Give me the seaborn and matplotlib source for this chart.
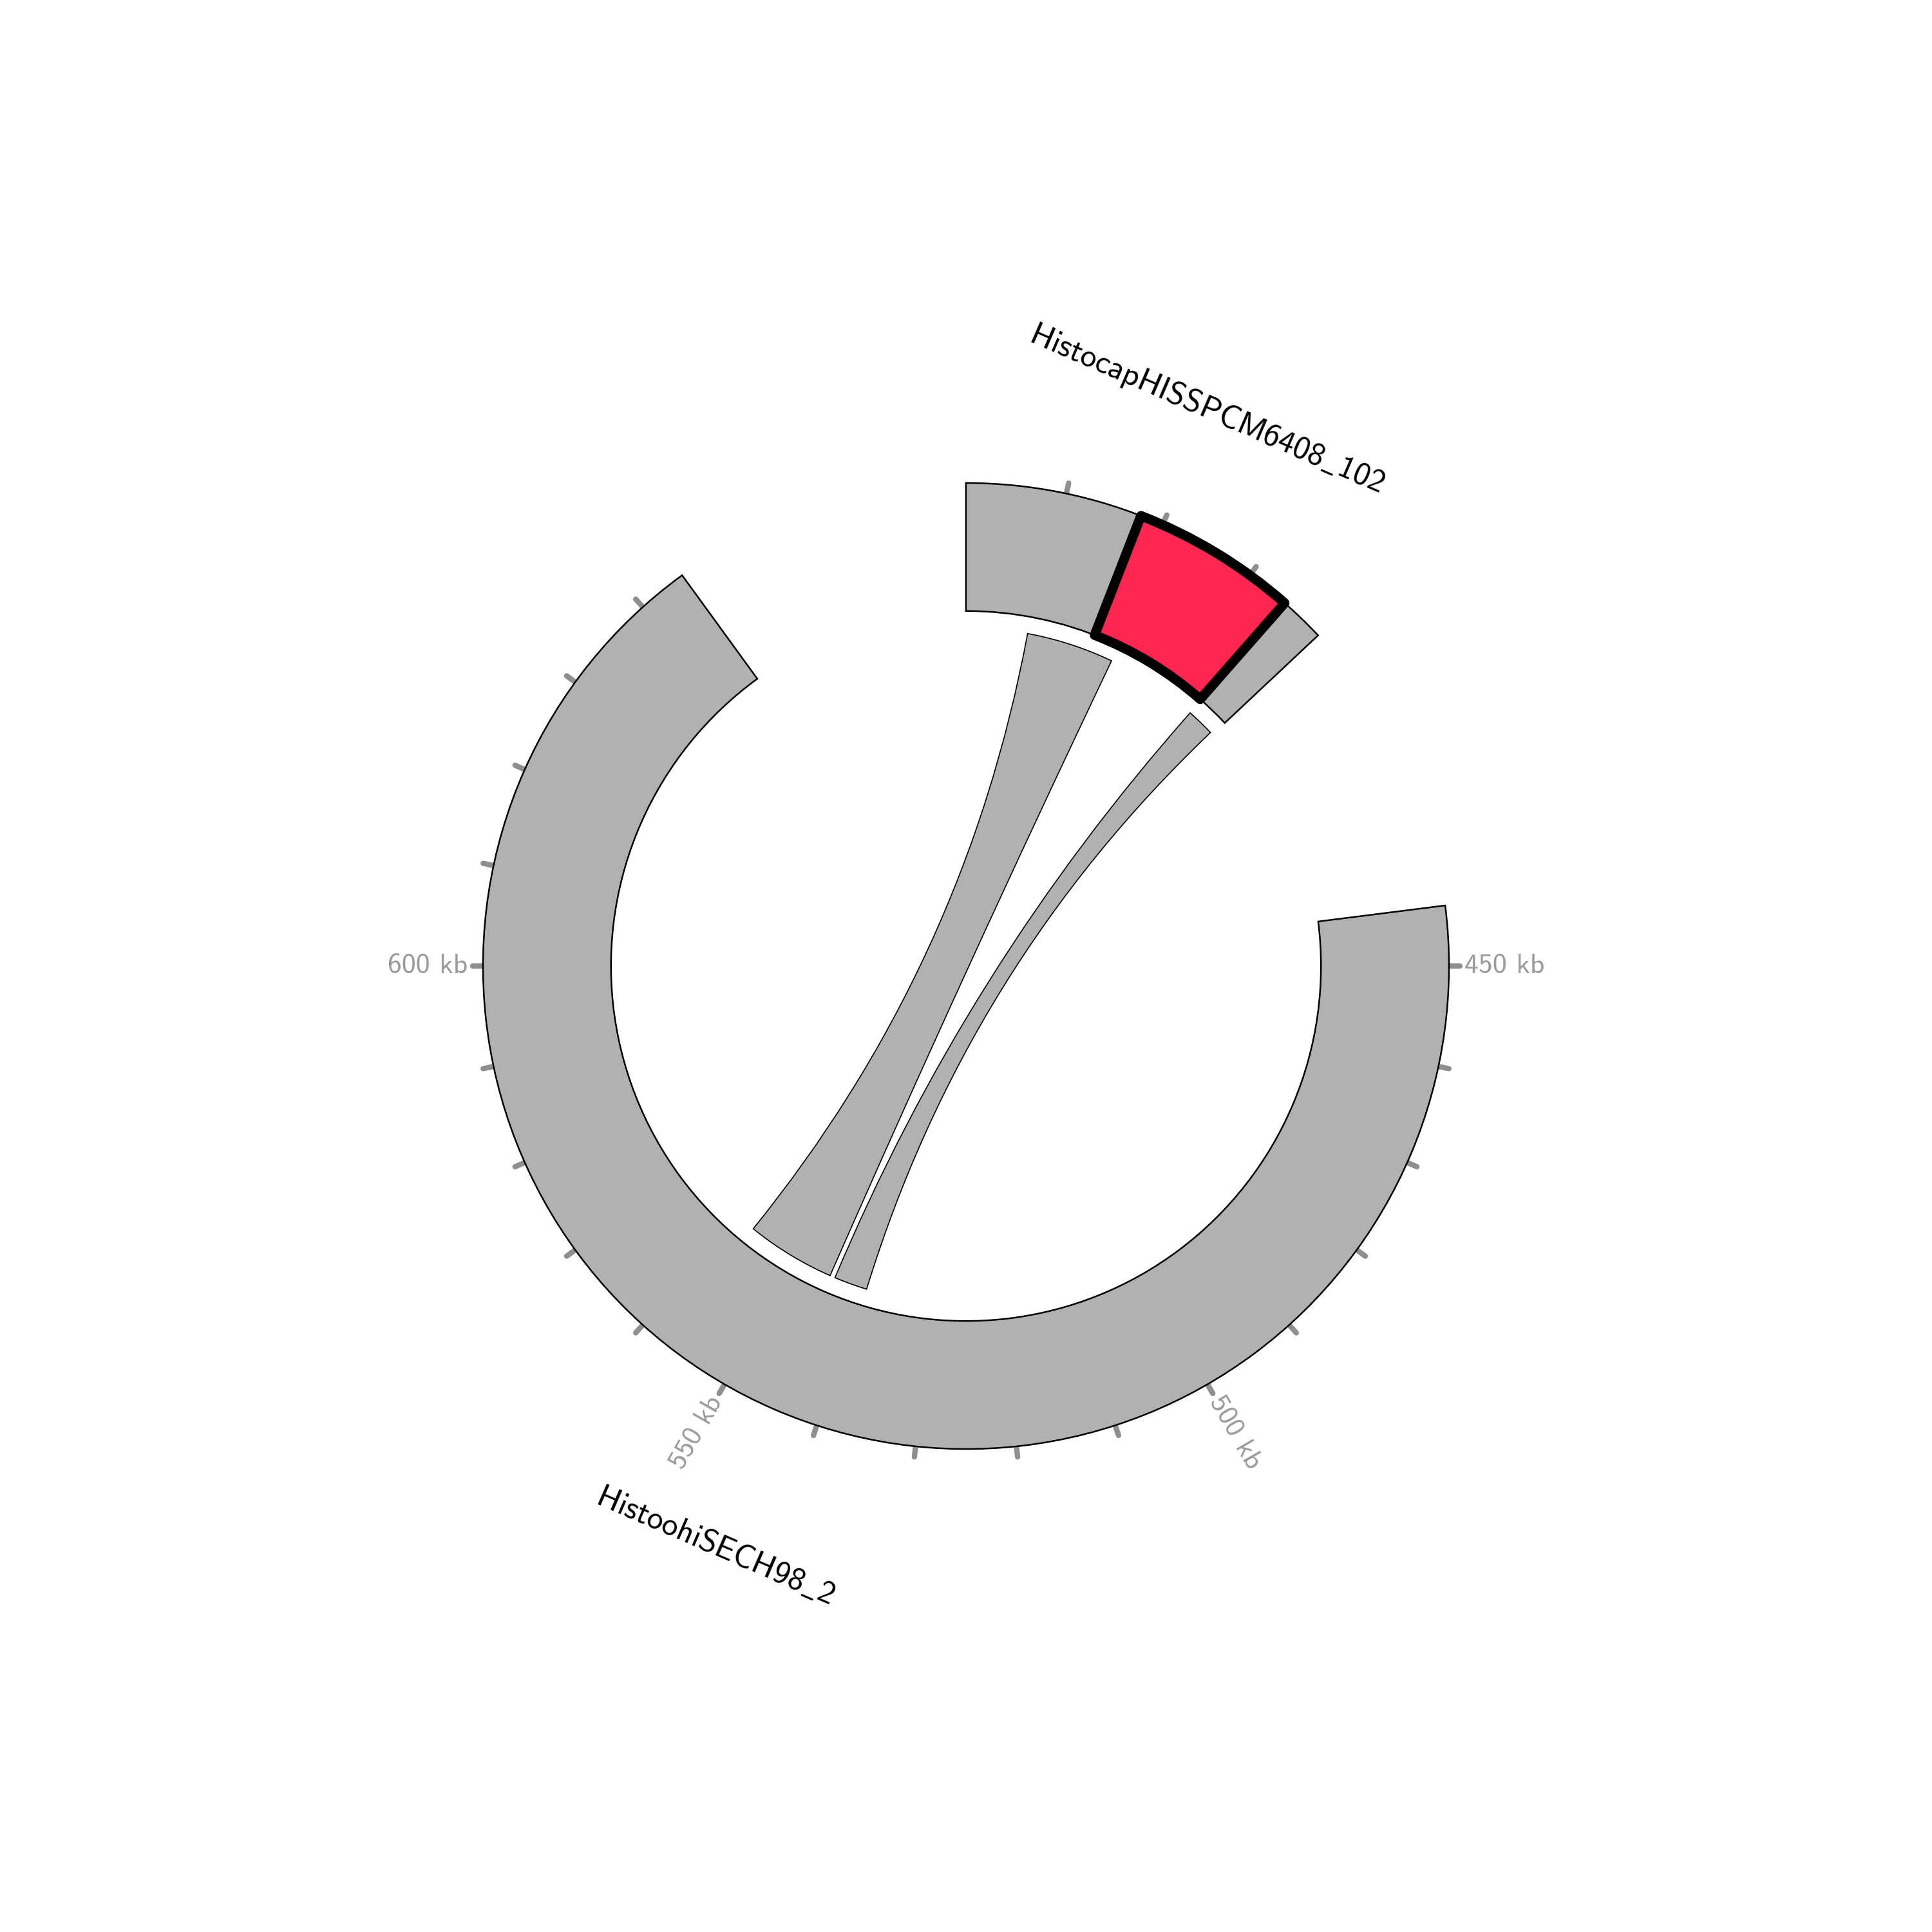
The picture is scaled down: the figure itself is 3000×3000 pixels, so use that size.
import numpy as np
import pandas as pd
import matplotlib
matplotlib.use("Agg")
import matplotlib.pyplot as plt
from matplotlib.patches import Wedge, PathPatch
from matplotlib.path import Path
import seaborn as sns

# Segments (kb), drawn clockwise starting at the top
seg_names = ["HistocapHISSPCM6408_102", "HistoohiSECH98_2"]
seg_starts = [0.0, 444.0]
seg_ends = [39.0, 645.0]
seg_label_every = [0, 50]   # 0 -> no tick labels
tick_every = 10

# Links: source on the small segment, target on the big one (kb)
link_src_start = [8.75, 34.6]
link_src_end = [21.25, 38.6]
link_dst_start = [557.5, 544.0]
link_dst_end = [544.75, 539.25]

# Highlighted region
hl_seg = 0
hl_start = 17.7
hl_end = 34.4

GAP = 36.0
R_OUT, R_IN, R_LINK = 1.0, 0.735, 0.70
GREY = "#b2b1b2"
RED = "#ff2651"

sns.set_theme(style="white")
plt.rcParams["font.family"] = ["cmss10", "DejaVu Sans"]
plt.rcParams["axes.unicode_minus"] = False

segs = pd.DataFrame({"name": seg_names, "start": seg_starts, "end": seg_ends,
                     "lab": seg_label_every})
segs["size"] = segs["end"] - segs["start"]
deg_per_kb = (360 - GAP * len(segs)) / segs["size"].sum()
segs["theta0"] = 90 - (segs["size"].cumsum().shift(fill_value=0) * deg_per_kb
                       + GAP * np.arange(len(segs)))


def theta(i, pos):
    return segs.loc[i, "theta0"] - (pos - segs.loc[i, "start"]) * deg_per_kb


def polar(r, th):
    t = np.deg2rad(th)
    return r * np.cos(t), r * np.sin(t)


fig = plt.figure(figsize=(10, 10), dpi=300)
ax = fig.add_axes([0, 0, 1, 1])
ax.set_xlim(-2, 2)
ax.set_ylim(-2, 2)
ax.set_aspect("equal")
ax.axis("off")

# segments, ticks and labels
for i, s in segs.iterrows():
    t1, t2 = theta(i, s["end"]), theta(i, s["start"])
    ax.add_patch(Wedge((0, 0), R_OUT, t1, t2, width=R_OUT - R_IN,
                       facecolor=GREY, edgecolor="black", lw=0.6, zorder=2))
    first = np.floor(s["start"] / tick_every) * tick_every + tick_every
    for p in np.arange(first, s["end"] + 1e-9, tick_every):
        th = theta(i, p)
        x0, y0 = polar(R_OUT - 0.005, th)
        x1, y1 = polar(R_OUT + 0.022, th)
        ax.plot([x0, x1], [y0, y1], color="#8f8f8f", lw=2.0,
                solid_capstyle="round", zorder=1)
        if s["lab"] and p % s["lab"] == 0:
            tx, ty = polar(R_OUT + 0.032, th)
            right = np.cos(np.deg2rad(th)) >= 0
            ax.text(tx, ty, f"{int(p)} kb", color="#9b9b9b", fontsize=10.5,
                    rotation=th if right else th + 180,
                    rotation_mode="anchor", ha="left" if right else "right",
                    va="center")
    mid = (t1 + t2) / 2
    up = np.sin(np.deg2rad(mid)) > 0
    lx, ly = polar(1.256 if up else 1.309, mid)
    ax.text(lx, ly, s["name"].replace("_", r"$\_$"), fontsize=12, color="black",
            math_fontfamily="cm",
            rotation=mid - 90 if up else mid + 90,
            rotation_mode="anchor", ha="center", va="center")

# highlight
ax.add_patch(Wedge((0, 0), R_OUT, theta(hl_seg, hl_end), theta(hl_seg, hl_start),
                   width=R_OUT - R_IN, facecolor=RED, edgecolor="black",
                   lw=3.6, joinstyle="round", zorder=3))


def arc(r, a, b, n=60):
    th = np.linspace(a, b, n)
    return list(zip(*polar(r, th)))


# links
for a1, a2, b1, b2 in zip(link_src_start, link_src_end, link_dst_start, link_dst_end):
    ta1, ta2 = theta(0, a1), theta(0, a2)
    tb1, tb2 = theta(1, b1), theta(1, b2)
    verts = arc(R_LINK, ta1, ta2)
    codes = [Path.MOVETO] + [Path.LINETO] * (len(verts) - 1)
    verts += [(0, 0), polar(R_LINK, tb2)]
    codes += [Path.CURVE3, Path.CURVE3]
    barc = arc(R_LINK, tb2, tb1)[1:]
    verts += barc
    codes += [Path.LINETO] * len(barc)
    verts += [(0, 0), polar(R_LINK, ta1)]
    codes += [Path.CURVE3, Path.CURVE3]
    verts.append((0, 0))
    codes.append(Path.CLOSEPOLY)
    ax.add_patch(PathPatch(Path(verts, codes), facecolor=GREY, edgecolor="black",
                           lw=0.4, zorder=2))

fig.savefig("out.png", dpi=300, facecolor="white")
